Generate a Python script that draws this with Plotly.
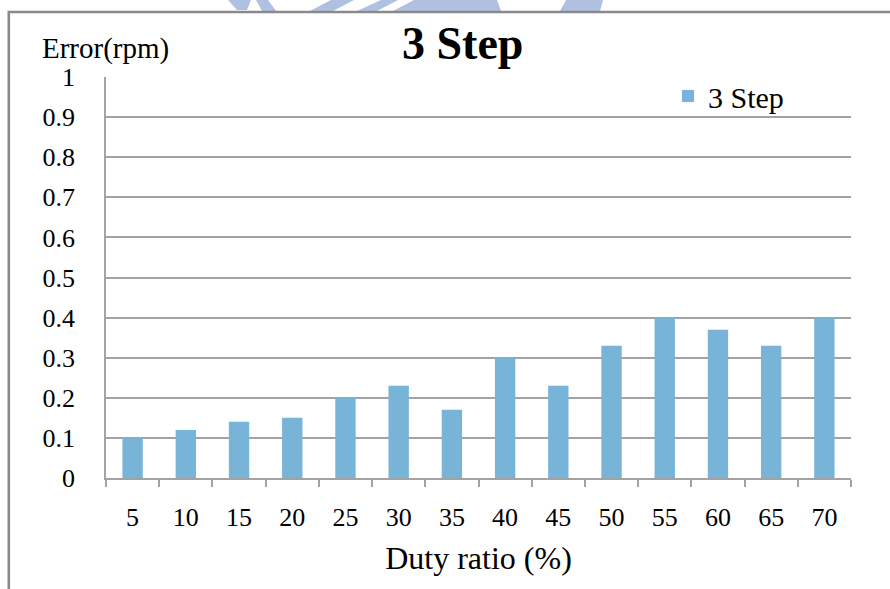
import plotly.graph_objects as go

# Duty ratio (%) categories and measured speed error (rpm)
duty_ratio = ["5", "10", "15", "20", "25", "30", "35", "40", "45", "50", "55", "60", "65", "70"]
error_rpm = [0.10, 0.12, 0.14, 0.15, 0.20, 0.23, 0.17, 0.30, 0.23, 0.33, 0.40, 0.37, 0.33, 0.40]
y_ticks = [0, 0.1, 0.2, 0.3, 0.4, 0.5, 0.6, 0.7, 0.8, 0.9, 1]
series_name = "3 Step"

W, H = 890, 589
L, R, T, B = 106, 39, 77, 111
PW, PH = W - L - R, H - T - B

SERIF = "Liberation Serif"
BAR = "#78b4d8"
GRID = "#a3a3a3"


def px(x):
    return (x - L) / PW


def py(y):
    return (H - B - y) / PH


fig = go.Figure()
fig.add_trace(go.Bar(
    x=duty_ratio,
    y=error_rpm,
    name=series_name,
    marker=dict(color=BAR, line=dict(width=0)),
    showlegend=True,
))

# faint seal printed behind the page, visible above the frame
seal = "#afc0e0"
seal_polys = [
    [(228, 0), (251, 0), (247, 10), (237, 10)],
    [(256, 0), (268, 0), (276, 11), (262, 11)],
    [(331, 0), (354, 0), (333, 11), (310, 11)],
    [(381, 0), (398, 0), (377, 11), (357, 11)],
    [(414, 0), (497, 0), (501, 11), (393, 11)],
    [(566, 0), (603, 0), (600, 11), (560, 11)],
]
shapes = []
for poly in seal_polys:
    path = "M " + " L ".join(f"{px(x):.5f},{py(y):.5f}" for x, y in poly) + " Z"
    shapes.append(dict(type="path", xref="paper", yref="paper", path=path,
                       fillcolor=seal, line=dict(width=0), layer="below"))

# chart frame (left and top edges)
shapes.append(dict(
    type="path", xref="paper", yref="paper",
    path=f"M {px(8.8):.5f},{py(600):.5f} L {px(8.8):.5f},{py(12):.5f} L {px(900):.5f},{py(12):.5f}",
    line=dict(color="#8a8a8a", width=2.6),
))

fig.update_layout(
    width=W, height=H,
    margin=dict(l=L, r=R, t=T, b=B, pad=0),
    paper_bgcolor="white",
    plot_bgcolor="white",
    font=dict(family=SERIF, size=26, color="black"),
    bargap=0.617,
    shapes=shapes,
    showlegend=True,
    legend=dict(
        x=px(668), y=py(70), xanchor="left", yanchor="top",
        font=dict(family=SERIF, size=30, color="black"),
        bgcolor="rgba(0,0,0,0)", borderwidth=0,
        itemwidth=30,
    ),
    annotations=[
        dict(text="<b>3 Step</b>", x=px(462), y=py(44), xref="paper", yref="paper",
             showarrow=False, xanchor="center", yanchor="middle",
             font=dict(family=SERIF, size=46, color="black")),
        dict(text="Error(rpm)", x=px(40), y=py(49), xref="paper", yref="paper",
             showarrow=False, xanchor="left", yanchor="middle",
             font=dict(family=SERIF, size=29, color="black")),
    ],
    xaxis=dict(
        type="category",
        automargin=False,
        showline=True, linecolor=GRID, linewidth=1.5,
        ticks="outside", tickson="boundaries", ticklen=7, tickcolor=GRID, tickwidth=1.5,
        showgrid=False,
        tickfont=dict(family=SERIF, size=26, color="black"),
        ticklabelstandoff=15,
        title=dict(text="Duty ratio (%)", font=dict(family=SERIF, size=32, color="black"), standoff=16),
    ),
    yaxis=dict(
        range=[0, 1],
        automargin=False,
        tickvals=y_ticks,
        ticktext=[f"{v:g}" for v in y_ticks],
        showline=True, linecolor=GRID, linewidth=1.5,
        showgrid=True, gridcolor=GRID, gridwidth=1.5,
        ticks="", zeroline=False,
        tickfont=dict(family=SERIF, size=26, color="black"),
        ticklabelstandoff=24,
    ),
)

fig.write_html("out.html")
